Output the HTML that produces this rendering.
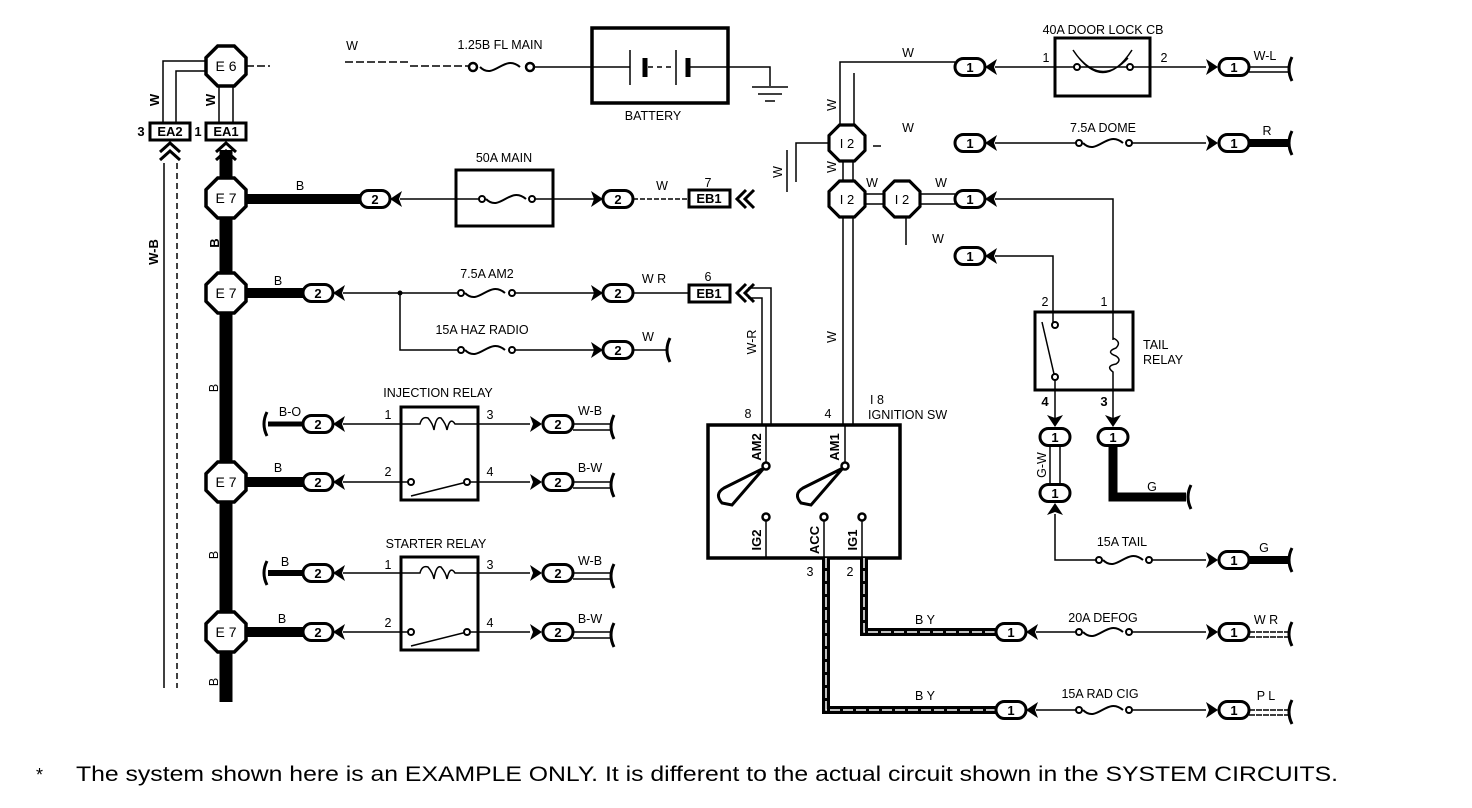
<!DOCTYPE html>
<html><head><meta charset="utf-8"><style>
html,body{margin:0;padding:0;background:#fff}
svg{display:block}
text{font-family:"Liberation Sans",Arial,sans-serif;font-size:12.5px;fill:#000}
.m{text-anchor:middle}
.w{fill:none;stroke:#000;stroke-width:1.5}
.t{fill:none;stroke:#000;stroke-width:3}
.b{fill:none;stroke:#000;stroke-width:10}
.n{font-size:13px;font-weight:bold}
.o{font-size:14px}
</style></head><body>
<svg width="1472" height="808" viewBox="0 0 1472 808" xmlns="http://www.w3.org/2000/svg">
<defs>
<polygon id="oct" points="-8.3,-20 8.3,-20 20,-8.3 20,8.3 8.3,20 -8.3,20 -20,8.3 -20,-8.3" fill="#fff" stroke="#000" stroke-width="3.5"/>
<rect id="pill" x="-15" y="-8.5" width="30" height="17" rx="8.5" fill="#fff" stroke="#000" stroke-width="3"/>
<polygon id="aL" points="0,0 12,-8 9,0 12,8" fill="#000"/>
<polygon id="aR" points="0,0 -12,-8 -9,0 -12,8" fill="#000"/>
<path id="end" d="M0,-12 Q-6,0 0,12" fill="none" stroke="#000" stroke-width="3"/>
<path id="fuse" d="M0,0 C14,14 24,-14 40,0" fill="none" stroke="#000" stroke-width="2"/>
</defs>

<!-- LEFT COLUMN -->
<line x1="164" y1="163" x2="164" y2="688" class="w"/>
<line x1="177" y1="163" x2="177" y2="688" class="w" stroke-dasharray="6 4"/>
<path d="M163,123 V61 H208 M176,123 V71 H208" class="w"/>
<path d="M219,86 V123 M233,86 V123" class="w"/>
<line x1="226" y1="150" x2="226" y2="702" stroke="#000" stroke-width="13"/>
<path d="M216,152 L226,143 L236,152 M216,160 L226,151 L236,160" class="t"/>
<path d="M160,152 L170,143 L180,152 M160,160 L170,151 L180,160" class="t"/>
<rect x="206" y="123" width="40" height="17" fill="#fff" stroke="#000" stroke-width="3"/>
<text x="226" y="136" class="m n">EA1</text><text x="198" y="136" class="m n">1</text>
<rect x="150" y="123" width="40" height="17" fill="#fff" stroke="#000" stroke-width="3"/>
<text x="170" y="136" class="m n">EA2</text><text x="141" y="136" class="m n">3</text>
<use href="#oct" x="226" y="66"/>
<text x="226" y="71" class="m o">E 6</text>
<text transform="translate(159,100) rotate(-90)" class="m n">W</text>
<text transform="translate(215,100) rotate(-90)" class="m n">W</text>
<text transform="translate(158,252) rotate(-90)" class="m n">W-B</text>
<text transform="translate(219,243) rotate(-90)" class="m n">B</text>
<text transform="translate(218,388) rotate(-90)" class="m">B</text>
<text transform="translate(218,555) rotate(-90)" class="m">B</text>
<text transform="translate(218,682) rotate(-90)" class="m">B</text>

<!-- battery row -->
<text x="352" y="50" class="m">W</text>
<path d="M246,66 H270 M345,62 H410 M410,66 H470" class="w" stroke-dasharray="8 3"/>
<circle cx="473" cy="67" r="4" fill="#fff" stroke="#000" stroke-width="2.5"/>
<circle cx="530" cy="67" r="4" fill="#fff" stroke="#000" stroke-width="2.5"/>
<use href="#fuse" x="480" y="67"/>
<text x="500" y="49" class="m">1.25B FL MAIN</text>
<path d="M534,67 H630 M688,67 H770 V86" class="w"/>
<rect x="592" y="28" width="136" height="75" fill="none" stroke="#000" stroke-width="3.5"/>
<path d="M630,50 V85 M676,50 V85" class="w" stroke-width="2"/>
<path d="M645,58 V77 M688,58 V77" stroke="#000" stroke-width="5"/>
<path d="M648,67 H672" class="w" stroke-dasharray="5 4"/>
<path d="M752,87 H788 M758,94 H782 M765,101 H775" class="w" stroke-width="2"/>
<text x="653" y="120" class="m">BATTERY</text>

<!-- E7 rows -->
<line x1="246" y1="199" x2="360" y2="199" class="b"/>
<text x="300" y="190" class="m">B</text>
<use href="#pill" x="375" y="199"/><text x="375" y="204" class="m n">2</text>
<use href="#aL" x="390" y="199"/>
<path d="M400,199 H456" class="w"/>
<rect x="456" y="170" width="97" height="56" fill="none" stroke="#000" stroke-width="3"/>
<path d="M456,199 H480 M532,199 H553" class="w"/>
<circle cx="482" cy="199" r="3" fill="#fff" stroke="#000" stroke-width="2"/>
<circle cx="532" cy="199" r="3" fill="#fff" stroke="#000" stroke-width="2"/>
<use href="#fuse" x="486" y="199"/>
<text x="504" y="162" class="m">50A MAIN</text>
<path d="M553,199 H594" class="w"/>
<use href="#aR" x="603" y="199"/>
<use href="#pill" x="618" y="199"/><text x="618" y="204" class="m n">2</text>
<path d="M633,199 H689" class="w" stroke-dasharray="5 2"/>
<text x="662" y="190" class="m">W</text>
<rect x="689" y="190" width="41" height="17" fill="#fff" stroke="#000" stroke-width="3"/>
<text x="709" y="203" class="m n">EB1</text><text x="708" y="187" class="m">7</text>
<path d="M746,190 L737,199 L746,208 M754,190 L745,199 L754,208" class="t"/>

<line x1="246" y1="293" x2="304" y2="293" class="b"/>
<text x="278" y="285" class="m">B</text>
<use href="#pill" x="318" y="293"/><text x="318" y="298" class="m n">2</text>
<use href="#aL" x="333" y="293"/>
<path d="M343,293 H458 M514,293 H594 M400,293 V350 H458 M514,350 H594" class="w"/>
<circle cx="400" cy="293" r="2.5"/>
<circle cx="461" cy="293" r="3" fill="#fff" stroke="#000" stroke-width="2"/>
<circle cx="512" cy="293" r="3" fill="#fff" stroke="#000" stroke-width="2"/>
<use href="#fuse" x="465" y="293"/>
<text x="487" y="278" class="m">7.5A AM2</text>
<use href="#aR" x="603" y="293"/>
<use href="#pill" x="618" y="293"/><text x="618" y="298" class="m n">2</text>
<path d="M633,293 H689" class="w"/>
<text x="654" y="283" class="m">W R</text>
<rect x="689" y="285" width="41" height="17" fill="#fff" stroke="#000" stroke-width="3"/>
<text x="709" y="298" class="m n">EB1</text><text x="708" y="281" class="m">6</text>
<path d="M746,284 L737,293 L746,302 M754,284 L745,293 L754,302" class="t"/>
<path d="M748,288 H771 V425 M748,298 H762 V425" class="w"/>
<text transform="translate(756,342) rotate(-90)" class="m">W-R</text>
<circle cx="461" cy="350" r="3" fill="#fff" stroke="#000" stroke-width="2"/>
<circle cx="512" cy="350" r="3" fill="#fff" stroke="#000" stroke-width="2"/>
<use href="#fuse" x="465" y="350"/>
<text x="482" y="334" class="m">15A HAZ RADIO</text>
<use href="#aR" x="603" y="350"/>
<use href="#pill" x="618" y="350"/><text x="618" y="355" class="m n">2</text>
<path d="M633,350 H666" class="w"/>
<text x="648" y="341" class="m">W</text>
<use href="#end" x="670" y="350"/>

<!-- INJECTION RELAY -->
<text x="438" y="397" class="m">INJECTION RELAY</text>
<rect x="401" y="407" width="77" height="93" fill="none" stroke="#000" stroke-width="3"/>
<use href="#end" x="267" y="424"/>
<line x1="268" y1="424" x2="304" y2="424" stroke="#000" stroke-width="5"/>
<text x="290" y="416" class="m">B-O</text>
<use href="#pill" x="318" y="424"/><text x="318" y="429" class="m n">2</text>
<use href="#aL" x="333" y="424"/>
<path d="M343,424 H420 Q422,416 428,418 Q433,424 434,430 Q436,416 441,418 Q446,424 447,430 Q450,416 455,424 H530" class="w" stroke-width="2"/>
<text x="388" y="419" class="m">1</text><text x="490" y="419" class="m">3</text>
<use href="#aR" x="542" y="424"/>
<use href="#pill" x="558" y="424"/><text x="558" y="429" class="m n">2</text>
<path d="M573,424 H610 M573,430 H610" class="w"/>
<text x="590" y="415" class="m">W-B</text>
<use href="#end" x="614" y="427"/>
<line x1="246" y1="482" x2="304" y2="482" class="b"/>
<text x="278" y="472" class="m">B</text>
<use href="#pill" x="318" y="482"/><text x="318" y="487" class="m n">2</text>
<use href="#aL" x="333" y="482"/>
<path d="M343,482 H408 M470,482 H530 M411,496 L467,482" class="w" stroke-width="2"/>
<circle cx="411" cy="482" r="3" fill="#fff" stroke="#000" stroke-width="2"/>
<circle cx="467" cy="482" r="3" fill="#fff" stroke="#000" stroke-width="2"/>
<text x="388" y="476" class="m">2</text><text x="490" y="476" class="m">4</text>
<use href="#aR" x="542" y="482"/>
<use href="#pill" x="558" y="482"/><text x="558" y="487" class="m n">2</text>
<path d="M573,482 H610 M573,488 H610" class="w"/>
<text x="590" y="472" class="m">B-W</text>
<use href="#end" x="614" y="485"/>

<!-- STARTER RELAY -->
<text x="436" y="548" class="m">STARTER RELAY</text>
<rect x="401" y="557" width="77" height="93" fill="none" stroke="#000" stroke-width="3"/>
<use href="#end" x="267" y="573"/>
<line x1="268" y1="573" x2="304" y2="573" stroke="#000" stroke-width="6"/>
<text x="285" y="566" class="m">B</text>
<use href="#pill" x="318" y="573"/><text x="318" y="578" class="m n">2</text>
<use href="#aL" x="333" y="573"/>
<path d="M343,573 H420 Q422,565 428,567 Q433,573 434,579 Q436,565 441,567 Q446,573 447,579 Q450,565 455,573 H530" class="w" stroke-width="2"/>
<text x="388" y="569" class="m">1</text><text x="490" y="569" class="m">3</text>
<use href="#aR" x="542" y="573"/>
<use href="#pill" x="558" y="573"/><text x="558" y="578" class="m n">2</text>
<path d="M573,573 H610 M573,579 H610" class="w"/>
<text x="590" y="565" class="m">W-B</text>
<use href="#end" x="614" y="576"/>
<line x1="246" y1="632" x2="304" y2="632" class="b"/>
<text x="282" y="623" class="m">B</text>
<use href="#pill" x="318" y="632"/><text x="318" y="637" class="m n">2</text>
<use href="#aL" x="333" y="632"/>
<path d="M343,632 H408 M470,632 H530 M411,646 L467,632" class="w" stroke-width="2"/>
<circle cx="411" cy="632" r="3" fill="#fff" stroke="#000" stroke-width="2"/>
<circle cx="467" cy="632" r="3" fill="#fff" stroke="#000" stroke-width="2"/>
<text x="388" y="627" class="m">2</text><text x="490" y="627" class="m">4</text>
<use href="#aR" x="542" y="632"/>
<use href="#pill" x="558" y="632"/><text x="558" y="637" class="m n">2</text>
<path d="M573,632 H610 M573,638 H610" class="w"/>
<text x="590" y="623" class="m">B-W</text>
<use href="#end" x="614" y="635"/>

<use href="#oct" x="226" y="198"/><text x="226" y="203" class="m o">E 7</text>
<use href="#oct" x="226" y="293"/><text x="226" y="298" class="m o">E 7</text>
<use href="#oct" x="226" y="482"/><text x="226" y="487" class="m o">E 7</text>
<use href="#oct" x="226" y="632"/><text x="226" y="637" class="m o">E 7</text>

<!-- IGNITION SW -->
<rect x="708" y="425" width="192" height="133" fill="none" stroke="#000" stroke-width="3.5"/>
<text x="748" y="418" class="m">8</text><text x="828" y="418" class="m">4</text>
<text x="870" y="404">I 8</text><text x="868" y="419">IGNITION SW</text>
<path d="M766,425 V463 M845,425 V463" class="w" stroke-width="2"/>
<circle cx="766" cy="466" r="3.5" fill="#fff" stroke="#000" stroke-width="2.5"/>
<circle cx="845" cy="466" r="3.5" fill="#fff" stroke="#000" stroke-width="2.5"/>
<path d="M764,468 L724,488 Q714,494 722,503 L732,505 Z" fill="none" stroke="#000" stroke-width="3"/>
<path d="M843,468 L803,488 Q793,494 801,503 L811,505 Z" fill="none" stroke="#000" stroke-width="3"/>
<text transform="translate(761,447) rotate(-90)" class="m n">AM2</text>
<text transform="translate(839,447) rotate(-90)" class="m n">AM1</text>
<path d="M766,520 V558 M824,520 V558 M862,520 V558" class="w" stroke-width="2"/>
<circle cx="766" cy="517" r="3.5" fill="#fff" stroke="#000" stroke-width="2.5"/>
<circle cx="824" cy="517" r="3.5" fill="#fff" stroke="#000" stroke-width="2.5"/>
<circle cx="862" cy="517" r="3.5" fill="#fff" stroke="#000" stroke-width="2.5"/>
<text transform="translate(761,540) rotate(-90)" class="m n">IG2</text>
<text transform="translate(819,540) rotate(-90)" class="m n">ACC</text>
<text transform="translate(857,540) rotate(-90)" class="m n">IG1</text>
<text x="810" y="576" class="m">3</text><text x="850" y="576" class="m">2</text>
<path d="M826,558 V710 H996" fill="none" stroke="#000" stroke-width="8"/>
<path d="M826,558 V710 H996" fill="none" stroke="#fff" stroke-width="1.5" stroke-dasharray="10 3"/>
<path d="M864,558 V632 H996" fill="none" stroke="#000" stroke-width="8"/>
<path d="M864,558 V632 H996" fill="none" stroke="#fff" stroke-width="1.5" stroke-dasharray="10 3"/>
<text x="925" y="624" class="m">B Y</text><text x="925" y="700" class="m">B Y</text>
<use href="#pill" x="1011" y="632"/><text x="1011" y="637" class="m n">1</text>
<use href="#aL" x="1026" y="632"/>
<use href="#pill" x="1011" y="710"/><text x="1011" y="715" class="m n">1</text>
<use href="#aL" x="1026" y="710"/>
<path d="M1036,632 H1078 M1130,632 H1206 M1036,710 H1078 M1130,710 H1206" class="w"/>
<circle cx="1079" cy="632" r="3" fill="#fff" stroke="#000" stroke-width="2"/>
<circle cx="1129" cy="632" r="3" fill="#fff" stroke="#000" stroke-width="2"/>
<use href="#fuse" x="1083" y="632"/>
<circle cx="1079" cy="710" r="3" fill="#fff" stroke="#000" stroke-width="2"/>
<circle cx="1129" cy="710" r="3" fill="#fff" stroke="#000" stroke-width="2"/>
<use href="#fuse" x="1083" y="710"/>
<text x="1103" y="622" class="m">20A DEFOG</text>
<text x="1100" y="698" class="m">15A RAD CIG</text>
<use href="#aR" x="1218" y="632"/><use href="#pill" x="1234" y="632"/><text x="1234" y="637" class="m n">1</text>
<use href="#aR" x="1218" y="710"/><use href="#pill" x="1234" y="710"/><text x="1234" y="715" class="m n">1</text>
<path d="M1249,632 H1288 M1249,637 H1288 M1249,710 H1288 M1249,715 H1288" class="w" stroke-dasharray="6 1"/>
<text x="1266" y="624" class="m">W R</text><text x="1266" y="700" class="m">P L</text>
<use href="#end" x="1292" y="634"/><use href="#end" x="1292" y="712"/>

<!-- I2 area -->
<path d="M840,125 V62 H955 M854,125 V73" class="w"/>
<text x="908" y="57" class="m">W</text>
<text transform="translate(836,105) rotate(-90)" class="m">W</text>
<path d="M843,161 V181 M853,161 V181" class="w"/>
<text transform="translate(836,167) rotate(-90)" class="m">W</text>
<path d="M829,143 H796 V182 M787,150 V192" class="w"/>
<text transform="translate(782,172) rotate(-90)" class="m">W</text>
<path d="M873,146 H881" class="w"/>
<path d="M865,194 H884 M865,204 H884 M920,194 H955 M920,204 H955" class="w"/>
<text x="872" y="187" class="m">W</text><text x="941" y="187" class="m">W</text>
<path d="M906,217 V245" class="w"/>
<path d="M843,217 V425 M853,217 V425" class="w"/>
<text transform="translate(836,337) rotate(-90)" class="m">W</text>
<text x="908" y="132" class="m">W</text><text x="938" y="243" class="m">W</text>
<g transform="translate(847,143) scale(0.9)"><use href="#oct"/></g><text x="847" y="148" class="m" style="font-size:13px">I 2</text>
<g transform="translate(847,199) scale(0.9)"><use href="#oct"/></g><text x="847" y="204" class="m" style="font-size:13px">I 2</text>
<g transform="translate(902,199) scale(0.9)"><use href="#oct"/></g><text x="902" y="204" class="m" style="font-size:13px">I 2</text>

<use href="#pill" x="970" y="67"/><text x="970" y="72" class="m n">1</text><use href="#aL" x="985" y="67"/>
<use href="#pill" x="970" y="143"/><text x="970" y="148" class="m n">1</text><use href="#aL" x="985" y="143"/>
<use href="#pill" x="970" y="199"/><text x="970" y="204" class="m n">1</text><use href="#aL" x="985" y="199"/>
<use href="#pill" x="970" y="256"/><text x="970" y="261" class="m n">1</text><use href="#aL" x="985" y="256"/>

<path d="M995,67 H1206 M995,143 H1078 M1130,143 H1206" class="w" stroke-width="2"/>
<rect x="1055" y="38" width="95" height="58" fill="#fff" stroke="#000" stroke-width="3"/>
<path d="M1055,67 H1150" class="w"/>
<path d="M1073,50 Q1103,95 1132,50 M1079,58 Q1103,85 1128,58" class="w" stroke-width="2"/>
<circle cx="1077" cy="67" r="3" fill="#fff" stroke="#000" stroke-width="2"/>
<circle cx="1130" cy="67" r="3" fill="#fff" stroke="#000" stroke-width="2"/>
<text x="1103" y="34" class="m">40A DOOR LOCK CB</text>
<text x="1046" y="62" class="m">1</text><text x="1164" y="62" class="m">2</text>
<circle cx="1079" cy="143" r="3" fill="#fff" stroke="#000" stroke-width="2"/>
<circle cx="1129" cy="143" r="3" fill="#fff" stroke="#000" stroke-width="2"/>
<use href="#fuse" x="1083" y="143"/>
<text x="1103" y="132" class="m">7.5A DOME</text>
<use href="#aR" x="1218" y="67"/><use href="#pill" x="1234" y="67"/><text x="1234" y="72" class="m n">1</text>
<use href="#aR" x="1218" y="143"/><use href="#pill" x="1234" y="143"/><text x="1234" y="148" class="m n">1</text>
<path d="M1249,67 H1288 M1249,72 H1288" class="w"/>
<text x="1265" y="60" class="m">W-L</text>
<line x1="1249" y1="143" x2="1290" y2="143" stroke="#000" stroke-width="8"/>
<text x="1267" y="135" class="m">R</text>
<use href="#end" x="1292" y="69"/><use href="#end" x="1292" y="143"/>

<!-- TAIL RELAY -->
<path d="M995,199 H1113 V340 M995,256 H1053 V322" class="w" stroke-width="2"/>
<rect x="1035" y="312" width="98" height="78" fill="none" stroke="#000" stroke-width="3"/>
<text x="1045" y="306" class="m">2</text><text x="1104" y="306" class="m">1</text>
<circle cx="1055" cy="325" r="3" fill="#fff" stroke="#000" stroke-width="2"/>
<circle cx="1055" cy="377" r="3" fill="#fff" stroke="#000" stroke-width="2"/>
<path d="M1042,322 L1054,374" class="w" stroke-width="2"/>
<path d="M1113,338 Q1122,342 1116,348 Q1105,352 1116,356 Q1122,360 1116,364 Q1105,366 1113,372 V390" class="w" stroke-width="2.5"/>
<text x="1143" y="349">TAIL</text><text x="1143" y="364">RELAY</text>
<path d="M1055,380 V418 M1113,390 V418" class="w" stroke-width="2"/>
<use href="#aR" x="1055" y="427" transform="rotate(90 1055 427)"/>
<use href="#aR" x="1113" y="427" transform="rotate(90 1113 427)"/>
<text x="1045" y="406" class="m n">4</text><text x="1104" y="406" class="m n">3</text>
<path d="M1050,445 V485 M1060,445 V485" class="w"/>
<text transform="translate(1046,465) rotate(-90)" class="m">G-W</text>
<path d="M1113,444 V497 H1186" fill="none" stroke="#000" stroke-width="9"/>
<text x="1152" y="491" class="m">G</text>
<use href="#end" x="1191" y="497"/>
<use href="#pill" x="1055" y="437"/><text x="1055" y="442" class="m n">1</text>
<use href="#pill" x="1113" y="437"/><text x="1113" y="442" class="m n">1</text>
<use href="#pill" x="1055" y="493"/><text x="1055" y="498" class="m n">1</text>
<use href="#aL" x="1055" y="503" transform="rotate(90 1055 503)"/>
<path d="M1055,514 V560 H1098 M1150,560 H1206" class="w" stroke-width="2"/>
<circle cx="1099" cy="560" r="3" fill="#fff" stroke="#000" stroke-width="2"/>
<circle cx="1149" cy="560" r="3" fill="#fff" stroke="#000" stroke-width="2"/>
<use href="#fuse" x="1103" y="560"/>
<text x="1122" y="546" class="m">15A TAIL</text>
<use href="#aR" x="1218" y="560"/><use href="#pill" x="1234" y="560"/><text x="1234" y="565" class="m n">1</text>
<line x1="1249" y1="560" x2="1290" y2="560" stroke="#000" stroke-width="8"/>
<text x="1264" y="552" class="m">G</text>
<use href="#end" x="1292" y="560"/>

<!-- footnote -->
<text x="36" y="781" style="font-size:18px">*</text>
<text x="76" y="781" style="font-size:21px" textLength="1262" lengthAdjust="spacingAndGlyphs">The system shown here is an EXAMPLE ONLY. It is different to the actual circuit shown in the SYSTEM CIRCUITS.</text>
</svg>
</body></html>
